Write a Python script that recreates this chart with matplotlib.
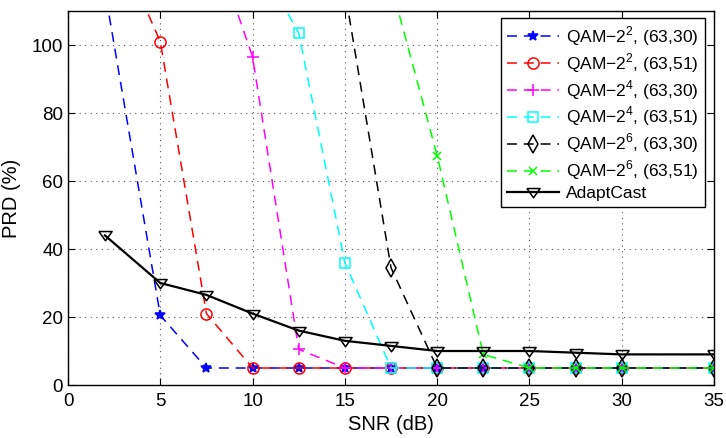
import numpy as np
import matplotlib
matplotlib.use("Agg")
from matplotlib import pyplot as plt

plt.rcParams['font.family'] = ['Liberation Sans', 'DejaVu Sans']
plt.rcParams['mathtext.fontset'] = 'custom'
plt.rcParams['mathtext.rm'] = 'Liberation Sans'

# SNR (dB) points
snr = [2, 5, 7.5, 10, 12.5, 15, 17.5, 20, 22.5, 25, 27.5, 30, 35]

# PRD (%) de cada esquema
prd_qam2_30 = [116, 20.5, 5, 5, 5, 5, 5, 5, 5, 5, 5, 5, 5]
prd_qam2_51 = [138, 101, 21, 5, 5, 5, 5, 5, 5, 5, 5, 5, 5]
prd_qam4_30 = [None, None, 136, 96.5, 10.5, 5, 5, 5, 5, 5, 5, 5, 5]
prd_qam4_51 = [None, None, None, 128, 103.5, 36, 5, 5, 5, 5, 5, 5, 5]
prd_qam6_30 = [None, None, None, None, None, 116, 34.5, 5, 5, 5, 5, 5, 5]
prd_qam6_51 = [None, None, None, None, None, None, 118, 67.5, 9, 5, 5, 5, 5]
prd_adapt = [44, 30, 26.5, 21, 16, 13, 11.5, 10, 10, 10, 9.5, 9, 9]

etiquetas = ['QAM$-$2$^2$, (63,30)', 'QAM$-$2$^2$, (63,51)',
             'QAM$-$2$^4$, (63,30)', 'QAM$-$2$^4$, (63,51)',
             'QAM$-$2$^6$, (63,30)', 'QAM$-$2$^6$, (63,51)',
             'AdaptCast']

fig = plt.figure(figsize=(7.26, 4.38), dpi=100)
ax = fig.add_axes([68/726, 1-385/438, (714-68)/726, (385-11)/438])


def serie(y):
    y = np.array([np.nan if v is None else v for v in y], dtype=float)
    return y


estilos = [
    (prd_qam2_30, '#0000ff', '*', dict(markersize=7)),
    (prd_qam2_51, '#ff0000', 'o', dict(markersize=8, markerfacecolor='none')),
    (prd_qam4_30, '#ff00ff', '+', dict(markersize=8)),
    (prd_qam4_51, '#00ffff', 's', dict(markersize=7, markerfacecolor='none')),
    (prd_qam6_30, '#000000', 'd', dict(markersize=9, markerfacecolor='none')),
    (prd_qam6_51, '#00ff00', 'x', dict(markersize=6)),
]

for (datos, color, mk, extra), lab in zip(estilos, etiquetas):
    ax.plot(snr, serie(datos), linestyle=(0, (6.5, 4.5)), color=color, marker=mk,
            linewidth=1.1, markeredgewidth=1.1, label=lab, **extra)

# triangulo achatado tipo matlab
tri = [(-1, 0.6), (1, 0.6), (0, -0.8), (-1, 0.6)]
ax.plot(snr, prd_adapt, '-', color='black', marker=tri, markersize=9.5,
        markerfacecolor='none', linewidth=1.6, markeredgewidth=1.1,
        label=etiquetas[-1])

ax.set_xlim(0, 35)
ax.set_ylim(0, 110)
ax.set_xticks(np.arange(0, 36, 5))
ax.set_yticks(np.arange(0, 101, 20))
ax.tick_params(direction='in', top=True, right=True, labelsize=13.5, length=5)
ax.tick_params(axis='x', pad=6)
ax.grid(True, linestyle=(0, (1, 4)), color='#555555', linewidth=0.8)
for s in ax.spines.values():
    s.set_linewidth(1.0)

ax.set_xlabel('SNR (dB)', fontsize=14.5, labelpad=3)
ax.set_ylabel('PRD (%)', fontsize=14.5, labelpad=8)

leg = ax.legend(loc='upper right', bbox_to_anchor=(0.986, 0.981), fontsize=12.5,
                fancybox=False, edgecolor='black', framealpha=1,
                handlelength=3.0, labelspacing=0.19, borderaxespad=0.0,
                handletextpad=0.4, borderpad=0.35)
leg.get_frame().set_linewidth(1.0)

fig.savefig('out.png', dpi=100)
